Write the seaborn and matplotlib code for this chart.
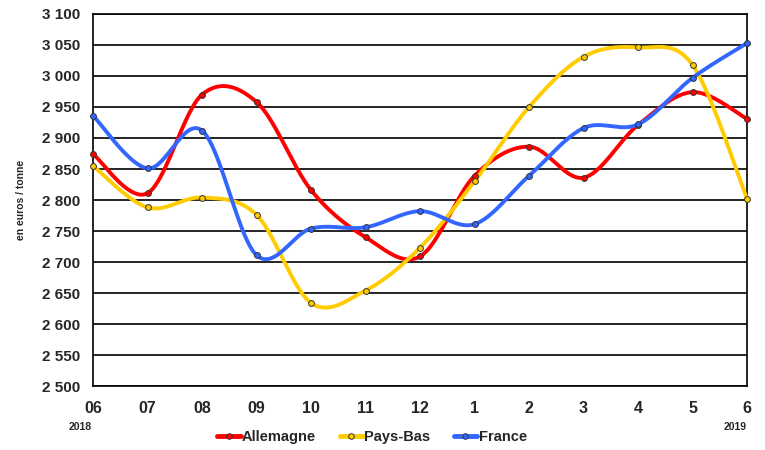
import numpy as np
import pandas as pd
import matplotlib
matplotlib.use("Agg")
import matplotlib.pyplot as plt
import seaborn as sns
from matplotlib.lines import Line2D
from matplotlib.ticker import FuncFormatter

# months from 06/2018 to 06/2019
months = ["06", "07", "08", "09", "10", "11", "12", "1", "2", "3", "4", "5", "6"]

allemagne = [2874, 2811, 2970, 2958, 2816, 2740, 2709, 2839, 2886, 2836, 2921, 2974, 2931]
pays_bas = [2855, 2788, 2804, 2776, 2634, 2654, 2723, 2830, 2950, 3031, 3046, 3018, 2802]
france = [2936, 2851, 2912, 2711, 2754, 2756, 2782, 2761, 2839, 2916, 2922, 2997, 3053]

series_names = ["Allemagne", "Pays-Bas", "France"]
series_values = [allemagne, pays_bas, france]
colors = ["#FF0000", "#FFCC00", "#3366FF"]


def smooth(xs, ys, n=40):
    # excel style smoothed line: bezier segments, control points from neighbours
    xs = np.asarray(xs, float)
    ys = np.asarray(ys, float)
    px = np.concatenate([[xs[0]], xs, [xs[-1]]])
    py = np.concatenate([[ys[0]], ys, [ys[-1]]])
    out_x, out_y = [], []
    t = np.linspace(0, 1, n)
    for i in range(1, len(px) - 2):
        p0 = np.array([px[i], py[i]])
        p3 = np.array([px[i + 1], py[i + 1]])
        c1 = p0 + (np.array([px[i + 1], py[i + 1]]) - np.array([px[i - 1], py[i - 1]])) / 6
        c2 = p3 - (np.array([px[i + 2], py[i + 2]]) - np.array([px[i], py[i]])) / 6
        pts = ((1 - t) ** 3)[:, None] * p0 + (3 * (1 - t) ** 2 * t)[:, None] * c1 \
            + (3 * (1 - t) * t ** 2)[:, None] * c2 + (t ** 3)[:, None] * p3
        out_x.extend(pts[:, 0])
        out_y.extend(pts[:, 1])
    return np.array(out_x), np.array(out_y)


sns.set_style("white")
plt.rcParams["font.family"] = ["Liberation Sans", "DejaVu Sans"]
plt.rcParams["font.weight"] = "bold"

fig = plt.figure(figsize=(7.65, 4.5), dpi=100)
ax = fig.add_axes([0.1216, 0.1422, 0.8549, 0.8267])

x = np.arange(len(months))
handles = []
for name, vals, col in zip(series_names, series_values, colors):
    sx, sy = smooth(x, vals)
    curve = pd.DataFrame({"x": sx, "y": sy})
    sns.lineplot(data=curve, x="x", y="y", sort=False, color=col, linewidth=2.8,
                 ax=ax, zorder=3, clip_on=False)
    ax.plot(x, vals, linestyle="none", marker="o", markersize=4.2,
            markerfacecolor=col, markeredgecolor="#333333", markeredgewidth=0.7,
            zorder=4, clip_on=False)
    handles.append(Line2D([0], [0], color=col, linewidth=3.5, marker="o",
                          markersize=4, markerfacecolor=col,
                          markeredgecolor="#333333", markeredgewidth=0.7))

ax.set_xlim(0, len(months) - 1)
ax.set_ylim(2500, 3100)
ax.set_yticks(np.arange(2500, 3101, 50))
ax.yaxis.set_major_formatter(FuncFormatter(lambda v, p: f"{int(v):,}".replace(",", " ")))
ax.set_xticks(x)
ax.set_xticklabels(months)
ax.grid(axis="y", color="black", linewidth=1.2)
ax.grid(axis="x", visible=False)
for s in ax.spines.values():
    s.set_color("black")
    s.set_linewidth(1.2)
ax.tick_params(axis="both", direction="out", length=5, width=1.2, color="black",
               labelsize=11, pad=4)
ax.tick_params(axis="x", pad=6, labelsize=11.5)
for lab in ax.get_xticklabels() + ax.get_yticklabels():
    lab.set_fontweight("bold")
ax.set_xlabel("")
ax.set_ylabel("en euros / tonne", fontsize=7.5, fontweight="bold", labelpad=12)

fig.text(80 / 765, 1 - 427 / 450, "2018", fontsize=7.5, fontweight="bold",
         ha="center", va="center")
fig.text(735 / 765, 1 - 427 / 450, "2019", fontsize=7.5, fontweight="bold",
         ha="center", va="center")

fig.legend(handles, series_names, loc="center", bbox_to_anchor=(372 / 765, 1 - 437 / 450),
           ncol=3, frameon=False, handlelength=1.6, handletextpad=0.1,
           columnspacing=1.6, prop={"size": 10.5, "weight": "bold"})

fig.savefig("out.png", dpi=100)
